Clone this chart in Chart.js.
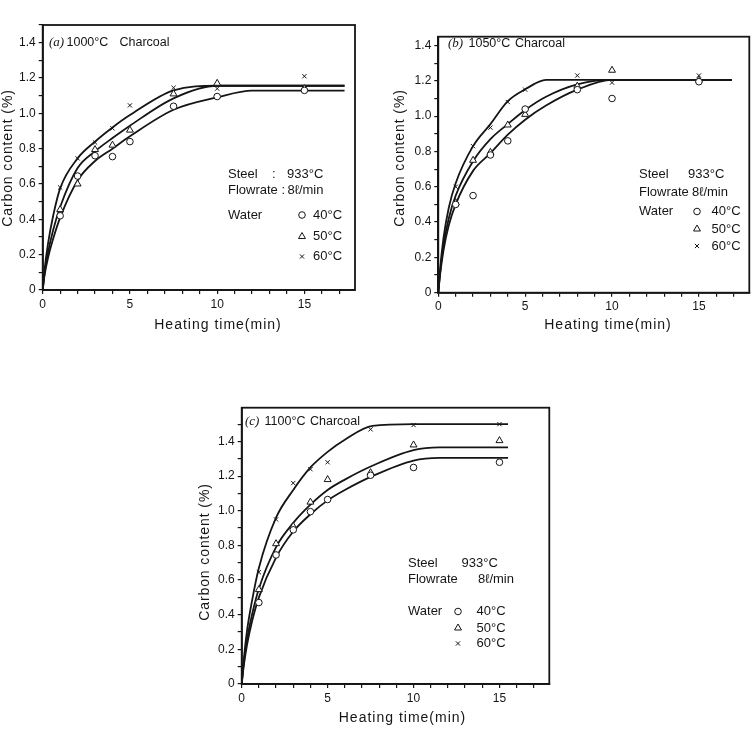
<!DOCTYPE html>
<html>
<head>
<meta charset="utf-8">
<script src="https://cdn.jsdelivr.net/npm/chart.js@4.4.0/dist/chart.umd.min.js"></script>
<style>
  html, body { margin: 0; padding: 0; background: #fff; }
  body { width: 756px; height: 732px; position: relative; overflow: hidden; }
  canvas { position: absolute; }
</style>
</head>
<body>
<canvas id="chartA" width="370" height="340" style="left:0px;top:0px"></canvas>
<canvas id="chartB" width="364" height="340" style="left:392px;top:0px"></canvas>
<canvas id="chartC" width="373" height="352" style="left:197px;top:380px"></canvas>
<script>
// measured points (heating time in min, carbon content in %)
const timesA = [1, 2, 3, 4, 5, 7.5, 10, 15];
const water40A = [0.42, 0.645, 0.76, 0.755, 0.84, 1.04, 1.095, 1.13];
const water50A = [0.455, 0.60, 0.795, 0.82, 0.905, 1.11, 1.17, 1.14];
const water60A = [0.58, 0.745, 0.835, 0.915, 1.045, 1.145, 1.14, 1.21];

const timesB = [1, 2, 3, 4, 5, 8, 10, 15];
const water40B = [0.50, 0.55, 0.78, 0.86, 1.04, 1.15, 1.10, 1.195];
const water50B = [0.51, 0.75, 0.795, 0.95, 1.01, 1.17, 1.26, 1.205];
const water60B = [0.60, 0.83, 0.935, 1.08, 1.15, 1.23, 1.19, 1.23];

const timesC = [1, 2, 3, 4, 5, 7.5, 10, 15];
const water40C = [0.47, 0.745, 0.89, 0.995, 1.065, 1.205, 1.25, 1.28];
const water50C = [0.545, 0.81, 0.91, 1.05, 1.18, 1.22, 1.38, 1.405];
const water60C = [0.645, 0.95, 1.16, 1.24, 1.28, 1.47, 1.495, 1.50];

// fitted curves
const fitTimesA = [0, 0.1, 0.3, 0.6, 1, 2, 3, 4, 5, 7.5, 10, 12, 17.3];
const fit40A = [0, 0.08, 0.18, 0.29, 0.41, 0.62, 0.73, 0.80, 0.87, 1.02, 1.09, 1.128, 1.128];
const fit50A = [0, 0.09, 0.21, 0.34, 0.47, 0.69, 0.785, 0.86, 0.93, 1.085, 1.156, 1.156, 1.156];
const fit60A = [0, 0.11, 0.26, 0.42, 0.575, 0.745, 0.84, 0.92, 0.99, 1.13, 1.156, 1.156, 1.156];

const fitTimesB = [0, 0.1, 0.3, 0.6, 1, 2, 3, 4, 5, 6.2, 8, 10, 16.9];
const fit40B = [0, 0.10, 0.24, 0.38, 0.50, 0.69, 0.79, 0.895, 0.98, 1.06, 1.15, 1.205, 1.205];
const fit50B = [0, 0.11, 0.27, 0.42, 0.55, 0.745, 0.87, 0.955, 1.035, 1.11, 1.18, 1.205, 1.205];
const fit60B = [0, 0.13, 0.31, 0.48, 0.62, 0.83, 0.955, 1.085, 1.152, 1.205, 1.205, 1.205, 1.205];

const fitTimesC = [0, 0.1, 0.3, 0.6, 1, 2, 3, 4, 5, 6, 7.6, 10, 11.5, 15.5];
const fit40C = [0, 0.09, 0.22, 0.36, 0.50, 0.73, 0.88, 0.98, 1.06, 1.12, 1.20, 1.29, 1.305, 1.305];
const fit50C = [0, 0.10, 0.25, 0.40, 0.55, 0.79, 0.93, 1.035, 1.12, 1.18, 1.26, 1.35, 1.366, 1.366];
const fit60C = [0, 0.12, 0.30, 0.48, 0.67, 0.96, 1.12, 1.25, 1.34, 1.41, 1.49, 1.50, 1.50, 1.50];

const xLabelled = [0, 5, 10, 15];
const yLabelled = [0, 0.2, 0.4, 0.6, 0.8, 1.0, 1.2, 1.4];

const INK = '#151515';
const SANS = '"Liberation Sans", Arial, sans-serif';

function pts(xs, ys) { return xs.map((x, i) => ({ x: x, y: ys[i] })); }

function markerSet(xs, ys, style, r) {
  return { data: pts(xs, ys), showLine: false, pointStyle: style, pointRadius: r,
    pointBorderWidth: 1, pointBorderColor: INK, pointBackgroundColor: '#fff', order: 0 };
}
function curve(xs, ys) {
  return { data: pts(xs, ys), showLine: true, pointRadius: 0, borderColor: INK, borderWidth: 1.8,
    cubicInterpolationMode: 'monotone', fill: false, order: 1 };
}

function drawMark(ctx, style, r, x, y) {
  ctx.fillStyle = '#fff';
  ctx.strokeStyle = INK;
  ctx.lineWidth = 1;
  Chart.helpers.drawPoint(ctx, { pointStyle: style, radius: r, borderWidth: 1, rotation: 0 }, x, y);
}

// frame round the plot area + free text
function decor(notes, L, T) {
  return {
    id: 'decor',
    afterDraw(chart) {
      const ctx = chart.ctx, a = chart.chartArea;
      ctx.save();
      ctx.strokeStyle = INK;
      ctx.lineWidth = 1.8;
      ctx.strokeRect(a.left, a.top, a.right - a.left, a.bottom - a.top);
      ctx.textBaseline = 'middle';
      notes.forEach(n => {
        if (n.mark) { drawMark(ctx, n.mark, n.r, n.x - L, n.y - T); return; }
        ctx.fillStyle = INK;
        ctx.font = n.font || ('13px ' + SANS);
        ctx.letterSpacing = n.ls || '0px';
        ctx.textAlign = n.align || 'left';
        if (n.rot) {
          ctx.save();
          ctx.translate(n.x - L, n.y - T);
          ctx.rotate(-Math.PI / 2);
          ctx.fillText(n.text, 0, 0);
          ctx.restore();
        } else {
          ctx.fillText(n.text, n.x - L, n.y - T);
        }
      });
      ctx.restore();
    }
  };
}

function makePanel(id, p) {
  const tickFont = { family: SANS, size: 12 };
  new Chart(document.getElementById(id), {
    type: 'scatter',
    data: {
      datasets: [
        markerSet(p.t, p.w40, 'circle', 3.3),
        markerSet(p.t, p.w50, 'triangle', 4),
        markerSet(p.t, p.w60, 'crossRot', 3),
        curve(p.ft, p.f40),
        curve(p.ft, p.f50),
        curve(p.ft, p.f60)
      ]
    },
    options: {
      responsive: false,
      animation: false,
      layout: { padding: { top: p.padTop, right: p.padRight, left: 0, bottom: 0 } },
      plugins: { legend: { display: false }, tooltip: { enabled: false } },
      scales: {
        x: {
          type: 'linear', position: 'bottom', min: 0, max: 17.9,
          afterFit: s => { s.height = p.xH; },
          ticks: {
            stepSize: 1, includeBounds: false, autoSkip: false, maxRotation: 0,
            color: INK, font: tickFont, padding: 3,
            callback: v => xLabelled.includes(v) ? String(v) : ''
          },
          grid: { drawOnChartArea: false, drawTicks: true, tickLength: 4, color: INK, lineWidth: 1.2 },
          border: { color: INK, width: 1.8 }
        },
        y: {
          type: 'linear', position: 'left', min: 0, max: p.yMax,
          afterFit: s => { s.width = p.yW; },
          ticks: {
            stepSize: 0.1, includeBounds: false, autoSkip: false,
            color: INK, font: tickFont, padding: 3,
            callback: v => {
              const hit = yLabelled.find(m => Math.abs(m - v) < 1e-6);
              if (hit === undefined) return '';
              return hit === 0 ? '0' : hit.toFixed(1);
            }
          },
          grid: { drawOnChartArea: false, drawTicks: true, tickLength: 4, color: INK, lineWidth: 1.2 },
          border: { color: INK, width: 1.8 }
        }
      }
    },
    plugins: [decor(p.notes, p.L, p.T)]
  });
}

function legendNotes(o) {
  const f = '13px ' + SANS;
  return [
    { x: o.x0, y: o.ySteel, text: 'Steel', font: f },
    { x: o.xVal1, y: o.ySteel, text: '933°C', font: f },
    { x: o.x0, y: o.yFlow, text: 'Flowrate', font: f },
    { x: o.xVal2, y: o.yFlow, text: '8\u2113/min', font: f },
    { x: o.x0, y: o.yW[0], text: 'Water', font: f },
    { mark: 'circle', r: 3.3, x: o.xm, y: o.yW[0] },
    { mark: 'triangle', r: 4, x: o.xm, y: o.yW[1] },
    { mark: 'crossRot', r: 3, x: o.xm, y: o.yW[2] },
    { x: o.xt, y: o.yW[0], text: '40°C', font: f },
    { x: o.xt, y: o.yW[1], text: '50°C', font: f },
    { x: o.xt, y: o.yW[2], text: '60°C', font: f }
  ];
}

function titleNotes(letter, temp, x, y, xTemp, xChar) {
  return [
    { x: x, y: y, text: '(' + letter + ')', font: 'italic 13px "Liberation Serif", serif' },
    { x: xTemp, y: y, text: temp, font: '12.5px ' + SANS },
    { x: xChar, y: y, text: 'Charcoal', font: '12.5px ' + SANS }
  ];
}

function axisNotes(xc, yx, yt, xTitleY) {
  return [
    { x: xc, y: xTitleY, text: 'Heating time(min)', font: '14px ' + SANS, align: 'center', ls: '1px' },
    { x: yx, y: yt, text: 'Carbon content (%)', font: '14px ' + SANS, align: 'center', ls: '0.9px', rot: true }
  ];
}

makePanel('chartA', {
  L: 0, T: 0, padTop: 25, padRight: 15, yW: 42.7, xH: 50, yMax: 1.5,
  t: timesA, w40: water40A, w50: water50A, w60: water60A,
  ft: fitTimesA, f40: fit40A, f50: fit50A, f60: fit60A,
  notes: [].concat(
    titleNotes('a', '1000°C', 49, 43, 66.5, 119.5),
    legendNotes({ x0: 228, xVal1: 287, ySteel: 174, xVal2: 287.5, yFlow: 190,
      xm: 302, xt: 313, yW: [215, 236.5, 256.5] }),
    [{ x: 272, y: 174, text: ':', font: '13px ' + SANS },
     { x: 281.5, y: 190, text: ':', font: '13px ' + SANS }],
    axisNotes(218, 8, 158, 325)
  )
});

makePanel('chartB', {
  L: 392, T: 0, padTop: 36.7, padRight: 6.7, yW: 46.3, xH: 47.3, yMax: 1.45,
  t: timesB, w40: water40B, w50: water50B, w60: water60B,
  ft: fitTimesB, f40: fit40B, f50: fit50B, f60: fit60B,
  notes: [].concat(
    titleNotes('b', '1050°C', 448, 43.5, 468.5, 515),
    legendNotes({ x0: 639, xVal1: 688, ySteel: 174, xVal2: 692, yFlow: 192,
      xm: 697, xt: 711.5, yW: [211.5, 229, 246] }),
    axisNotes(608, 400, 158, 325)
  )
});

makePanel('chartC', {
  L: 197, T: 380, padTop: 27.7, padRight: 20.7, yW: 44.7, xH: 48, yMax: 1.595,
  t: timesC, w40: water40C, w50: water50C, w60: water60C,
  ft: fitTimesC, f40: fit40C, f50: fit50C, f60: fit60C,
  notes: [].concat(
    titleNotes('c', '1100°C', 245, 421.5, 264.5, 310),
    legendNotes({ x0: 408, xVal1: 461.5, ySteel: 563, xVal2: 478, yFlow: 579,
      xm: 458, xt: 476.5, yW: [611.5, 628, 643.5] }),
    axisNotes(402.5, 205, 552, 718)
  )
});
</script>
</body>
</html>
